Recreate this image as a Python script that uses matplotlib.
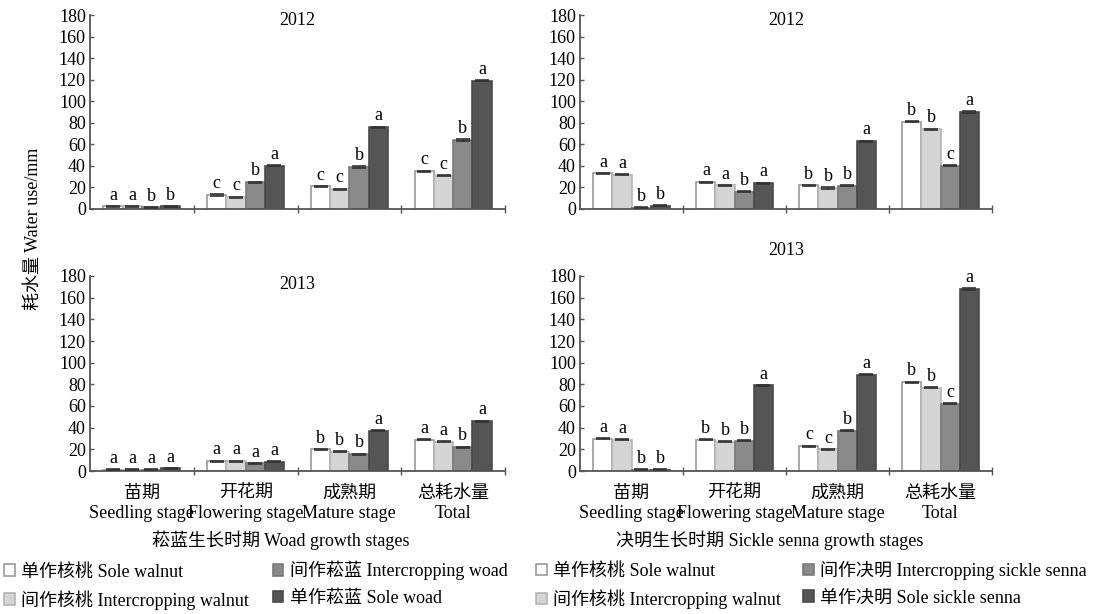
import matplotlib
matplotlib.use("Agg")
import matplotlib.pyplot as plt
import numpy as np

plt.rcParams['font.family'] = ['Liberation Serif', 'Noto Sans CJK SC']
plt.rcParams['font.size'] = 13

# stages on the x axis
stages = ['苗期\nSeedling stage', '开花期\nFlowering stage', '成熟期\nMature stage', '总耗水量\nTotal']

# water use (mm) per treatment, order: sole walnut, intercrop walnut, intercrop crop, sole crop
woad_2012 = [[2.5, 2.5, 1.5, 2.5], [13, 11, 25, 40], [21, 18.5, 39, 76], [35, 31, 64, 119]]
woad_2012_sig = [['a', 'a', 'b', 'b'], ['c', 'c', 'b', 'a'], ['c', 'c', 'b', 'a'], ['c', 'c', 'b', 'a']]
woad_2013 = [[1, 1, 1, 2.5], [9, 9, 7, 8.5], [20, 18, 15.5, 37], [29, 27, 22, 46]]
woad_2013_sig = [['a', 'a', 'a', 'a'], ['a', 'a', 'a', 'a'], ['b', 'b', 'b', 'a'], ['a', 'a', 'b', 'a']]

senna_2012 = [[33, 32, 1, 3], [25, 22, 16, 24], [22, 19.5, 21.5, 63], [81, 74, 40, 90]]
senna_2012_sig = [['a', 'a', 'b', 'b'], ['a', 'a', 'b', 'a'], ['b', 'b', 'b', 'a'], ['b', 'b', 'c', 'a']]
senna_2013 = [[30, 29, 1, 1], [29, 27, 28, 79], [23, 20, 37, 89], [82, 77, 62, 168]]
senna_2013_sig = [['a', 'a', 'b', 'b'], ['b', 'b', 'b', 'a'], ['c', 'c', 'b', 'a'], ['b', 'b', 'c', 'a']]

woad_names = ['单作核桃 Sole walnut', '间作核桃 Intercropping walnut',
              '间作菘蓝 Intercropping woad', '单作菘蓝 Sole woad']
senna_names = ['单作核桃 Sole walnut', '间作核桃 Intercropping walnut',
               '间作决明 Intercropping sickle senna', '单作决明 Sole sickle senna']

fills = ['#ffffff', '#d4d4d4', '#8a8a8a', '#555555']
edges = ['#9a9a9a', '#b4b4b4', '#7a7a7a', '#4a4a4a']

W, H = 1101, 614
fig = plt.figure(figsize=(W / 100, H / 100), dpi=100)


def px_rect(x0, x1, y_top, y_bot):
    return [x0 / W, 1 - y_bot / H, (x1 - x0) / W, (y_bot - y_top) / H]


def draw_panel(ax, data, sig, year, title_y, show_xlabels, xlabel):
    data = np.array(data)
    width = 0.185
    x = np.arange(len(stages))
    handles = []
    for k in range(4):
        pos = x + (k - 1.5) * width
        b = ax.bar(pos, data[:, k], width, color=fills[k], edgecolor=edges[k],
                   linewidth=1.2, zorder=2)
        handles.append(b)
        ax.errorbar(pos, data[:, k], yerr=0.5, fmt='none', ecolor='#333333',
                    elinewidth=1, capsize=5, capthick=1.2, zorder=3)
        for xi, v, s in zip(pos, data[:, k], np.array(sig)[:, k]):
            ax.annotate(s, (xi, v), xytext=(0, 2), textcoords='offset points',
                        ha='center', va='bottom', fontsize=13)
    ax.set_xlim(-0.5, 3.5)
    ax.set_ylim(0, 180)
    ax.set_yticks(range(0, 181, 20))
    ax.tick_params(axis='y', direction='in', length=3, width=1, color='#555555', pad=3)
    ax.set_xticks(x)
    if show_xlabels:
        ax.set_xticklabels(stages, linespacing=1.25)
    else:
        ax.set_xticklabels([])
    ax.tick_params(axis='x', which='major', length=0, pad=10)
    ax.set_xticks([0.5, 1.5, 2.5, 3.5], minor=True)
    ax.tick_params(axis='x', which='minor', direction='inout', length=6, width=1, color='#555555')
    for side in ['top', 'right']:
        ax.spines[side].set_visible(False)
    for side in ['left', 'bottom']:
        ax.spines[side].set_color('#555555')
        ax.spines[side].set_linewidth(1.3)
    ax.text(0.5, title_y, year, transform=ax.transAxes, ha='center', va='center', fontsize=13)
    if xlabel:
        ax.text(0.46, -0.355, xlabel, transform=ax.transAxes, ha='center', va='center', fontsize=13)
    return handles


ax_tl = fig.add_axes(px_rect(90, 505, 15, 209))
ax_tr = fig.add_axes(px_rect(580, 992, 15, 209))
ax_bl = fig.add_axes(px_rect(90, 505, 276, 471))
ax_br = fig.add_axes(px_rect(580, 992, 276, 471))

h_woad = draw_panel(ax_tl, woad_2012, woad_2012_sig, '2012', 0.97, False, None)
draw_panel(ax_bl, woad_2013, woad_2013_sig, '2013', 0.955, True, '菘蓝生长时期 Woad growth stages')
h_senna = draw_panel(ax_tr, senna_2012, senna_2012_sig, '2012', 0.97, False, None)
draw_panel(ax_br, senna_2013, senna_2013_sig, '2013', 1.13, True, '决明生长时期 Sickle senna growth stages')

fig.text(33 / W, 1 - 229 / H, '耗水量 Water use/mm', rotation=90, ha='center', va='center', fontsize=13)

leg_kw = dict(ncol=2, frameon=False, loc='upper left', fontsize=13, borderpad=0,
              borderaxespad=0, handlelength=0.6, handleheight=0.6, handletextpad=0.35,
              labelspacing=0.52)
fig.legend(h_woad, woad_names, bbox_to_anchor=(4 / W, 1 - 561 / H), columnspacing=1.3, **leg_kw)
fig.legend(h_senna, senna_names, bbox_to_anchor=(536 / W, 1 - 561 / H), columnspacing=1.2, **leg_kw)

fig.savefig('out.png', dpi=100)
